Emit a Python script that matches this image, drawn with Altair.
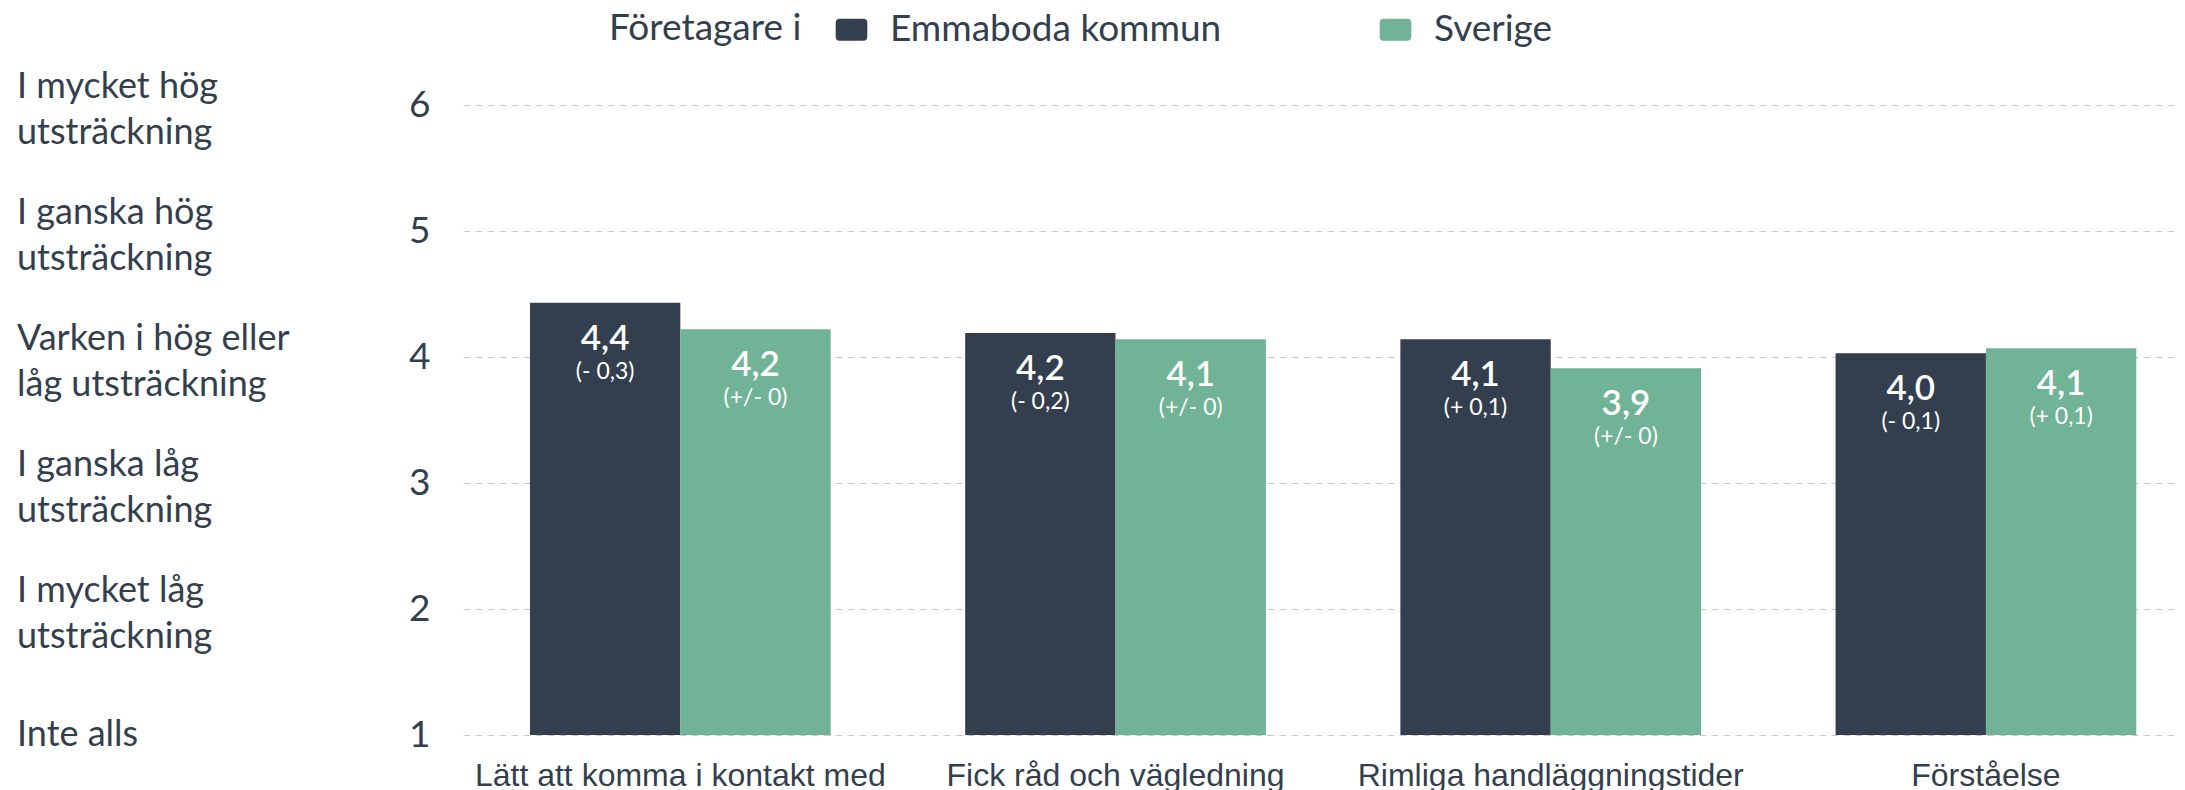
import altair as alt
import pandas as pd

categories = ["Lätt att komma i kontakt med", "Fick råd och vägledning",
              "Rimliga handläggningstider", "Förståelse"]
series = ["Emmaboda kommun", "Sverige"]
emmaboda_values = [4.43, 4.19, 4.14, 4.03]
sverige_values = [4.22, 4.14, 3.91, 4.07]
emmaboda_labels = ["4,4", "4,2", "4,1", "4,0"]
sverige_labels = ["4,2", "4,1", "3,9", "4,1"]
emmaboda_changes = ["(- 0,3)", "(- 0,2)", "(+ 0,1)", "(- 0,1)"]
sverige_changes = ["(+/- 0)", "(+/- 0)", "(+/- 0)", "(+ 0,1)"]
scale_values = [6, 5, 4, 3, 2, 1]
scale_texts = ["I mycket hög\nutsträckning", "I ganska hög\nutsträckning",
               "Varken i hög eller\nlåg utsträckning", "I ganska låg\nutsträckning",
               "I mycket låg\nutsträckning", "Inte alls"]
colors = ["#333F4E", "#70B396"]

rows = []
for i, c in enumerate(categories):
    rows.append(dict(cat=c, ser=series[0], val=emmaboda_values[i],
                     lab=emmaboda_labels[i], chg=emmaboda_changes[i]))
    rows.append(dict(cat=c, ser=series[1], val=sverige_values[i],
                     lab=sverige_labels[i], chg=sverige_changes[i]))
df = pd.DataFrame(rows)
scale_df = pd.DataFrame({"v": scale_values, "t": scale_texts})

TXT = "#333F4E"
FONT = "Lato"

x_enc = alt.X("cat:N", sort=categories, title=None,
              scale=alt.Scale(paddingInner=0.309, paddingOuter=0.1237, align=0.622),
              axis=alt.Axis(labelFont="Liberation Sans", labelFontSize=32, labelColor=TXT,
                            labelPadding=50, labelBaseline="alphabetic", labelAngle=0,
                            domain=False, ticks=False, grid=False, labelLimit=0))
y_scale = alt.Scale(domain=[1, 6], nice=False, zero=False)
y_enc = alt.Y("val:Q", scale=y_scale, title=None,
              axis=alt.Axis(values=scale_values, format="d", labelFont=FONT,
                            labelFontSize=37, labelColor=TXT, labelPadding=33,
                            domain=False, ticks=False, grid=True, gridColor="#c8c8c8",
                            gridDash=[7, 5], gridWidth=1))
xo = alt.XOffset("ser:N", sort=series)

bars = alt.Chart(df).mark_bar().encode(
    x=x_enc, xOffset=xo, y=y_enc, y2=alt.datum(1),
    color=alt.Color("ser:N", sort=series, title="Företagare i",
                    scale=alt.Scale(domain=series, range=colors),
                    legend=alt.Legend(orient="none", legendX=146, legendY=-94,
                                      direction="horizontal", titleOrient="left",
                                      titleFont=FONT, titleFontSize=37,
                                      titleFontWeight="normal", titleColor=TXT,
                                      titleLimit=600,
                                      titlePadding=31, labelFont=FONT, labelFontSize=37,
                                      labelColor=TXT, labelOffset=20, columnPadding=155,
                                      symbolType="M-0.75,-0.7L0.75,-0.7Q1,-0.7 1,-0.45L1,0.45Q1,0.7 0.75,0.7L-0.75,0.7Q-1,0.7 -1,0.45L-1,-0.45Q-1,-0.7 -0.75,-0.7Z",
                                      symbolSize=1000, symbolStrokeWidth=0,
                                      symbolOpacity=1, labelLimit=0))
)

val_text = alt.Chart(df).mark_text(font=FONT, fontSize=35, fontWeight=600, color="white",
                                   baseline="alphabetic", dy=47).encode(
    x=alt.X("cat:N", sort=categories), xOffset=xo, y=alt.Y("val:Q", scale=y_scale),
    text="lab:N")
chg_text = alt.Chart(df).mark_text(font=FONT, fontSize=23, color="white",
                                   baseline="alphabetic", dy=76).encode(
    x=alt.X("cat:N", sort=categories), xOffset=xo, y=alt.Y("val:Q", scale=y_scale),
    text="chg:N")
side_two = alt.Chart(scale_df).transform_filter(alt.datum.v > 1).mark_text(
    font=FONT, fontSize=36, color=TXT, align="left", baseline="middle",
    lineBreak="\n", lineHeight=46, dy=-18).encode(
    x=alt.value(-446), y=alt.Y("v:Q", scale=y_scale), text="t:N")
side_one = alt.Chart(scale_df).transform_filter(alt.datum.v == 1).mark_text(
    font=FONT, fontSize=36, color=TXT, align="left", baseline="middle").encode(
    x=alt.value(-446), y=alt.Y("v:Q", scale=y_scale), text="t:N")

chart = alt.layer(bars, val_text, chg_text, side_two, side_one).properties(
    width=1714, height=630,
    autosize=alt.AutoSizeParams(type="none"),
    padding={"left": 455, "top": 97, "right": 0, "bottom": 55},
).configure_view(stroke=None)

chart.save("out.html", embed_options={"renderer": "svg", "actions": False})
